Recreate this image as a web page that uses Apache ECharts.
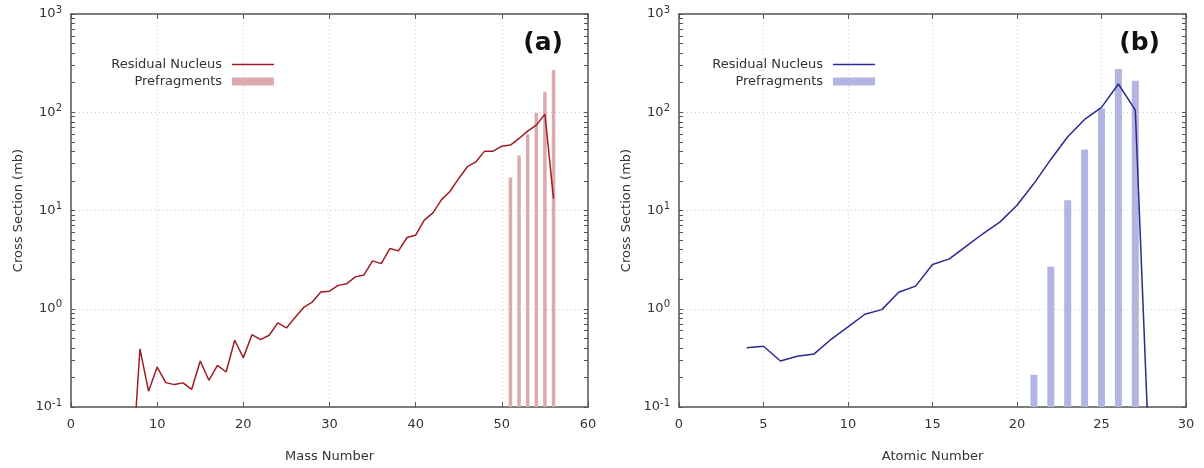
<!DOCTYPE html>
<html>
<head>
<meta charset="utf-8">
<script src="https://cdn.jsdelivr.net/npm/echarts@6/dist/echarts.min.js"></script>
<style>
  html, body { margin: 0; padding: 0; background: #fff; }
  #chart { width: 1204px; height: 468px; }
</style>
</head>
<body>
<div id="chart"></div>
<script>
// (a) mass number distribution
var massNumber = [7, 8, 9, 10, 11, 12, 13, 14, 15, 16, 17, 18, 19, 20, 21, 22, 23, 24, 25, 26, 27, 28, 29, 30, 31,
  32, 33, 34, 35, 36, 37, 38, 39, 40, 41, 42, 43, 44, 45, 46, 47, 48, 49, 50, 51, 52, 53, 54, 55, 56];
var residualMass = [0.017, 0.39, 0.145, 0.255, 0.177, 0.169, 0.176, 0.151, 0.294, 0.187, 0.265, 0.227, 0.478, 0.318,
  0.545, 0.485, 0.537, 0.718, 0.638, 0.813, 1.03, 1.17, 1.48, 1.51, 1.73, 1.80, 2.11, 2.21, 3.07, 2.88, 4.10, 3.88,
  5.31, 5.61, 7.98, 9.47, 12.9, 15.7, 21.2, 27.9, 31.3, 40.2, 40.2, 45.2, 46.3, 54.1, 64.3, 74.0, 95.7, 13.2];
var prefragMassNumber = [51, 52, 53, 54, 55, 56];
var prefragMass = [21.7, 36.3, 59.4, 98.9, 162, 269];

// (b) atomic number distribution
var atomicNumber = [4, 5, 6, 7, 8, 9, 10, 11, 12, 13, 14, 15, 16, 17, 18, 19, 20, 21, 22, 23, 24, 25, 26, 27, 28];
var residualAtomic = [0.40, 0.415, 0.294, 0.328, 0.347, 0.489, 0.653, 0.879, 0.98, 1.47, 1.70, 2.82, 3.22, 4.33,
  5.83, 7.66, 11.3, 18.8, 33.1, 56.3, 84.5, 112, 194, 105, 0.005];
var prefragAtomicNumber = [21, 22, 23, 24, 25, 26, 27];
var prefragAtomic = [0.213, 2.67, 12.7, 41.8, 109, 275, 209];

var xTicksA = [0, 10, 20, 30, 40, 50, 60];
var xTicksB = [0, 5, 10, 15, 20, 25, 30];
var yMin = 0.1, yMax = 1000;

var FONT = "DejaVu Sans";
var AXIS = "#555";

// log minor tick positions, in decades (for the overlaid linear tick axes)
var logTicks = [];
for (var k = -1; k < 3; k++) {
  for (var m = 1; m < 10; m++) logTicks.push(k + Math.log10(m));
}
logTicks.push(3);

function zip(xs, ys) {
  return xs.map(function (x, i) { return [x, ys[i]]; });
}

function barRenderer(width, color) {
  return function (params, api) {
    var top = api.coord([api.value(0), api.value(1)]);
    var base = api.coord([api.value(0), yMin]);
    return {
      type: "rect",
      shape: { x: top[0] - width / 2, y: top[1], width: width, height: base[1] - top[1] },
      style: { fill: color }
    };
  };
}

function xAxes(gridIndex, ticks, name) {
  var step = ticks[1] - ticks[0];
  return [
    {
      gridIndex: gridIndex, type: "value", position: "bottom",
      min: ticks[0], max: ticks[ticks.length - 1], interval: step,
      name: name, nameLocation: "middle", nameGap: 43,
      nameTextStyle: { fontFamily: FONT, fontSize: 13, color: "#333" },
      axisLine: { show: true, onZero: false, lineStyle: { color: AXIS, width: 1.5 } },
      axisTick: { show: true, inside: true, length: 5, lineStyle: { color: AXIS, width: 1 } },
      axisLabel: { fontFamily: FONT, fontSize: 13, color: "#333", margin: 11 },
      splitLine: { show: true, lineStyle: { color: "#ccc", type: [1, 3] } }
    },
    {
      gridIndex: gridIndex, type: "value", position: "top",
      min: ticks[0], max: ticks[ticks.length - 1], interval: step,
      axisLine: { show: true, onZero: false, lineStyle: { color: AXIS, width: 1.5 } },
      axisTick: { show: true, inside: true, length: 5, lineStyle: { color: AXIS, width: 1 } },
      axisLabel: { show: false },
      splitLine: { show: false }
    }
  ];
}

function tickAxis(gridIndex, position, showLine) {
  return {
    gridIndex: gridIndex, type: "value", min: -1, max: 3, interval: 1, position: position,
    axisLine: { show: showLine, onZero: false, lineStyle: { color: AXIS, width: 1.5 } },
    axisTick: { show: true, inside: true, length: 4, customValues: logTicks, lineStyle: { color: AXIS, width: 1 } },
    axisLabel: { show: false },
    splitLine: { show: false }
  };
}

function yAxes(gridIndex) {
  return [
    {
      gridIndex: gridIndex, type: "log", logBase: 10, min: yMin, max: yMax, position: "left",
      name: "Cross Section (mb)", nameLocation: "middle", nameGap: 46,
      nameTextStyle: { fontFamily: FONT, fontSize: 13, color: "#333" },
      axisLine: { show: true, onZero: false, lineStyle: { color: AXIS, width: 1.5 } },
      axisTick: { show: false },
      axisLabel: {
        fontFamily: FONT, fontSize: 13, color: "#333", margin: 9,
        formatter: function (v) { return "10{s|" + Math.round(Math.log10(v)) + "}"; },
        rich: { s: { fontFamily: FONT, fontSize: 10, color: "#333", padding: [0, 0, 8, 0] } }
      },
      splitLine: { show: true, lineStyle: { color: "#ccc", type: [1, 3] } }
    },
    tickAxis(gridIndex, "left", false),
    tickAxis(gridIndex, "right", true)
  ];
}

var lineIcon = "path://M0,0h42v1.5h-42Z";

function legend(right, lineName, barName) {
  return {
    orient: "vertical", align: "right", right: right, top: 53, itemGap: 4,
    itemWidth: 42, itemHeight: 8,
    textStyle: { fontFamily: FONT, fontSize: 13, color: "#333", padding: [0, 5, 0, 0] },
    formatter: function (n) { return n.trim(); },
    data: [{ name: lineName, icon: lineIcon }, { name: barName, icon: "rect" }]
  };
}

var chart = echarts.init(document.getElementById("chart"));

chart.setOption({
  animation: false,
  grid: [
    { left: 71, right: 616, top: 14, bottom: 61 },
    { left: 679, right: 18, top: 14, bottom: 61 }
  ],
  legend: [
    legend(925, "Residual Nucleus", "Prefragments"),
    legend(324, "Residual Nucleus ", "Prefragments ")
  ],
  xAxis: xAxes(0, xTicksA, "Mass Number").concat(xAxes(1, xTicksB, "Atomic Number")),
  yAxis: yAxes(0).concat(yAxes(1)),
  graphic: [
    { type: "text", right: 1204 - 563, top: 31, style: { text: "(a)", font: "bold 25px " + FONT, fill: "#111" } },
    { type: "text", right: 1204 - 1160, top: 31, style: { text: "(b)", font: "bold 25px " + FONT, fill: "#111" } }
  ],
  series: [
    {
      name: "Prefragments", type: "custom", xAxisIndex: 0, yAxisIndex: 0,
      itemStyle: { color: "#dcaaad" },
      renderItem: barRenderer(3.5, "#dcaaad"),
      data: zip(prefragMassNumber, prefragMass)
    },
    {
      name: "Residual Nucleus", type: "line", xAxisIndex: 0, yAxisIndex: 0,
      symbol: "none", clip: true,
      lineStyle: { color: "#9e1c22", width: 1.5 },
      itemStyle: { color: "#9e1c22" },
      data: zip(massNumber, residualMass)
    },
    {
      name: "Prefragments ", type: "custom", xAxisIndex: 2, yAxisIndex: 3,
      itemStyle: { color: "#b4b4e2" },
      renderItem: barRenderer(7, "#b4b4e2"),
      data: zip(prefragAtomicNumber, prefragAtomic)
    },
    {
      name: "Residual Nucleus ", type: "line", xAxisIndex: 2, yAxisIndex: 3,
      symbol: "none", clip: true,
      lineStyle: { color: "#2a2a92", width: 1.5 },
      itemStyle: { color: "#2a2a92" },
      data: zip(atomicNumber, residualAtomic)
    }
  ]
});
</script>
</body>
</html>
